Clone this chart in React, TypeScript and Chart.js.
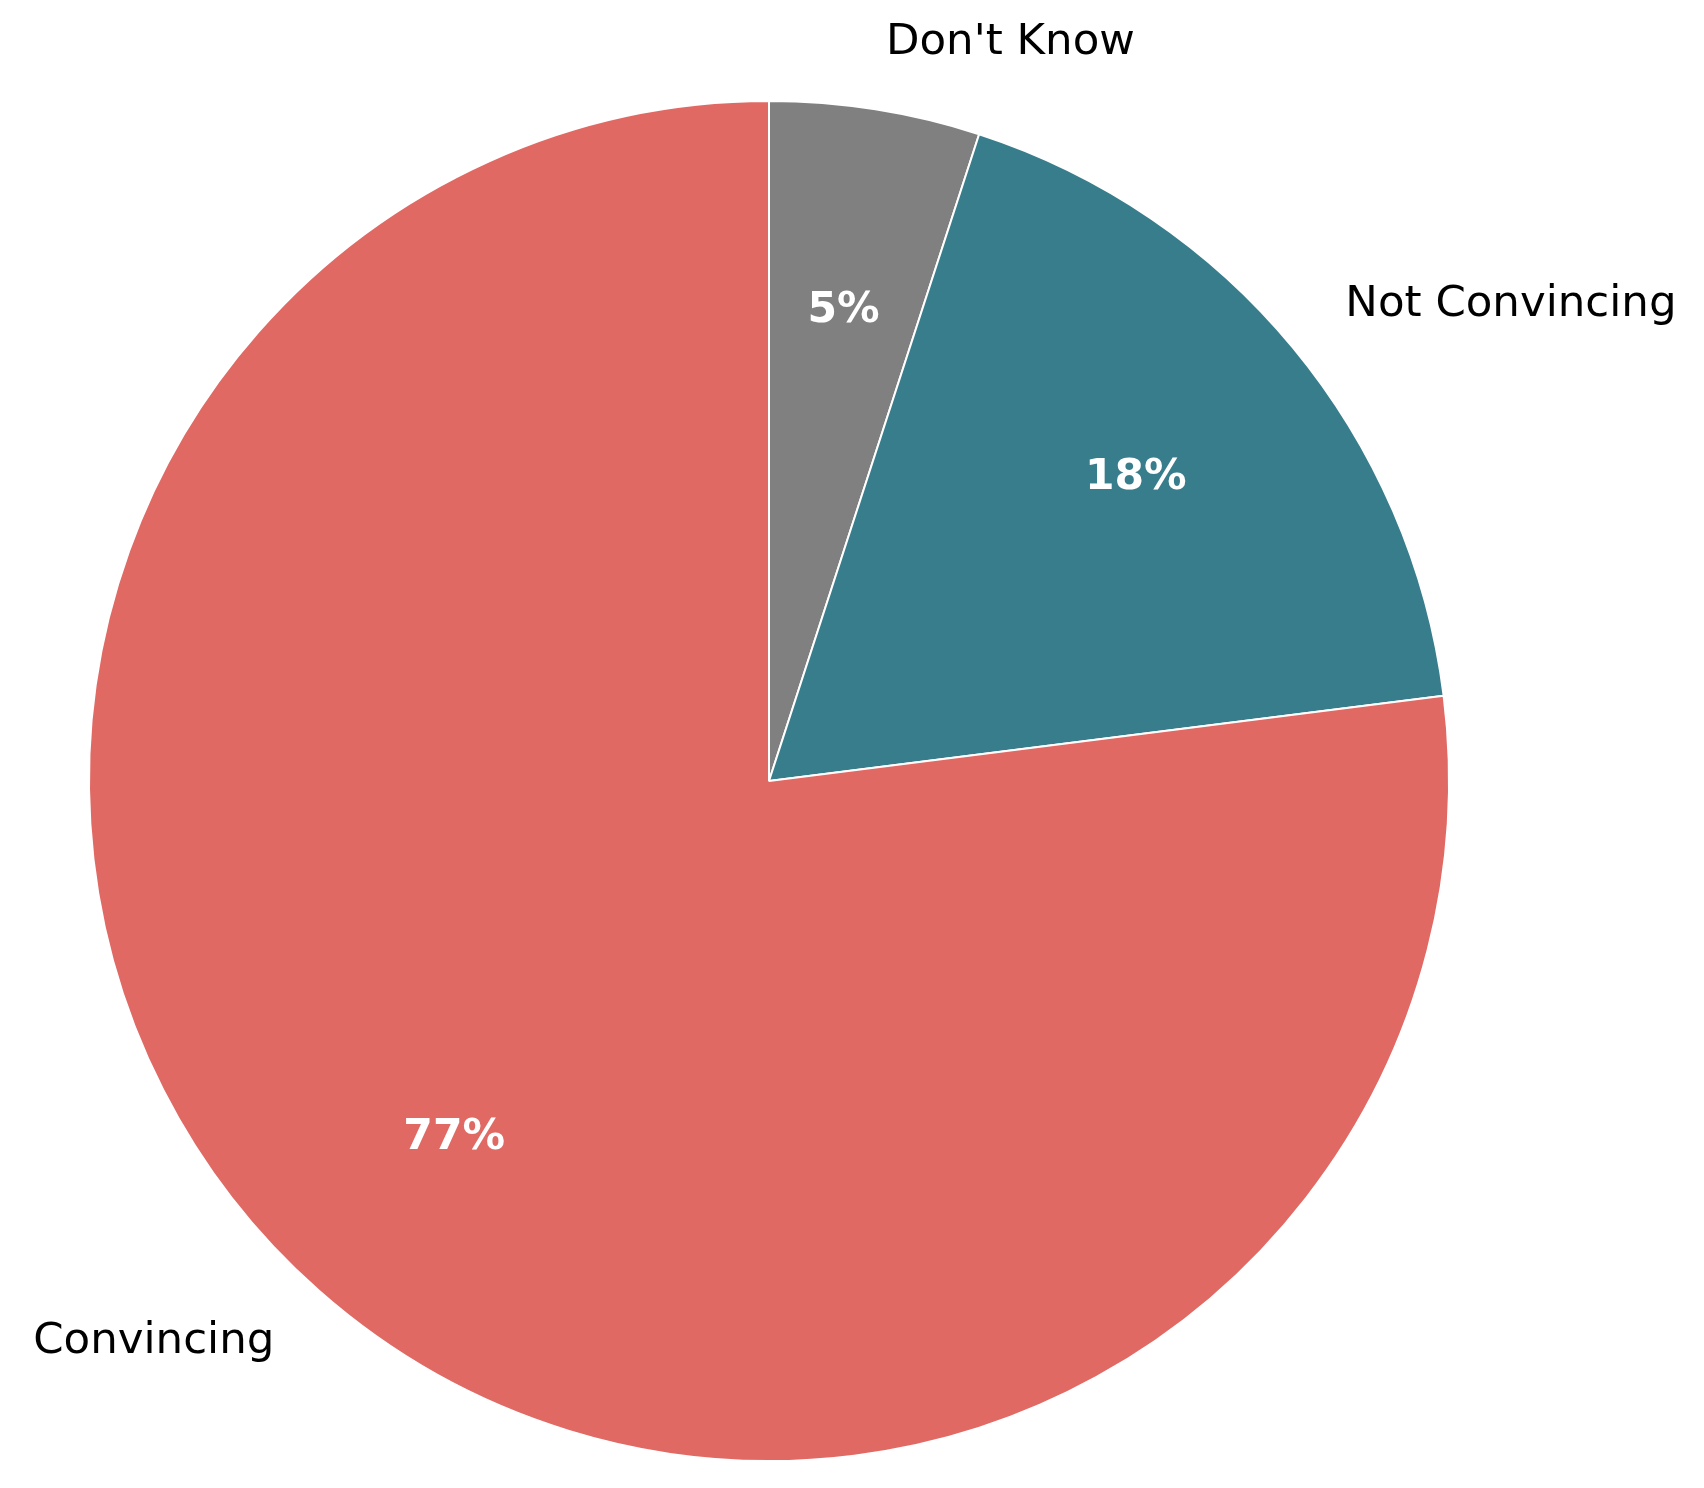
import React, { useEffect, useRef } from "react";
import { Chart, registerables } from "chart.js";

Chart.register(...registerables);

const categories = ["Don't Know", "Not Convincing", "Convincing"];
const values = [5, 18, 77];
const percentLabels = ["5%", "18%", "77%"];
const colors = ["#808080", "#387D8B", "#E16964"];

const labelPlugin = {
  id: "pieLabels",
  afterDatasetsDraw(chart: any) {
    const ctx = chart.ctx;
    const meta = chart.getDatasetMeta(0);
    ctx.save();
    meta.data.forEach((arc: any, i: number) => {
      const { x, y, startAngle, endAngle, outerRadius } = arc.getProps(
        ["x", "y", "startAngle", "endAngle", "outerRadius"],
        true
      );
      const mid = (startAngle + endAngle) / 2;
      const c = Math.cos(mid);
      const s = Math.sin(mid);
      // category label
      const lr = outerRadius * 1.1;
      ctx.font = '43.5px "DejaVu Sans"';
      ctx.fillStyle = "#000000";
      ctx.textBaseline = "middle";
      ctx.textAlign = c >= 0 ? "left" : "right";
      ctx.fillText(categories[i], x + lr * c, y + lr * s);
      // percentage
      const pr = outerRadius * 0.7;
      ctx.font = 'bold 42.5px "DejaVu Sans"';
      ctx.fillStyle = "#ffffff";
      ctx.textAlign = "center";
      ctx.fillText(percentLabels[i], x + pr * c, y + pr * s);
    });
    ctx.restore();
  },
};

export default function App() {
  const ref = useRef<HTMLCanvasElement | null>(null);
  useEffect(() => {
    document.body.style.margin = "0";
    document.body.style.background = "#ffffff";
    const chart = new Chart(ref.current as HTMLCanvasElement, {
      type: "pie",
      data: {
        labels: categories,
        datasets: [
          {
            data: values,
            backgroundColor: colors,
            borderColor: "#ffffff",
            borderWidth: 2,
          },
        ],
      },
      options: {
        responsive: false,
        animation: false,
        devicePixelRatio: 1,
        radius: 680,
        layout: { padding: { left: 89, right: 255, top: 101, bottom: 27 } },
        plugins: {
          legend: { display: false },
          tooltip: { enabled: false },
        },
      },
      plugins: [labelPlugin],
    } as any);
    return () => chart.destroy();
  }, []);
  return (
    <div style={{ position: "fixed", left: 0, top: 0, width: 1704, height: 1488, background: "#fff" }}>
      <canvas ref={ref} width={1704} height={1488} style={{ width: 1704, height: 1488 }} />
    </div>
  );
}
